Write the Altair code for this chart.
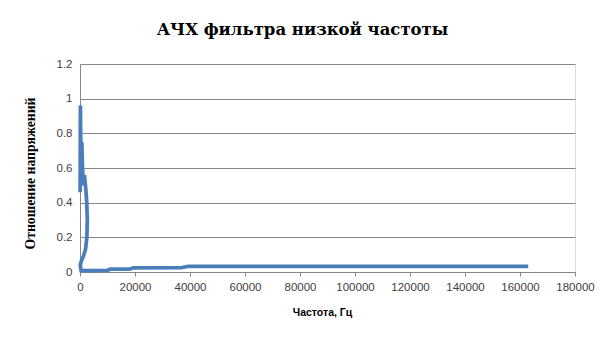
import altair as alt
import pandas as pd

# Measured points of the low-pass filter response, in recording order
freq_hz = [163000, 39400, 37000, 19400, 18000, 10900, 10000, 400, 100, 400,
           1200, 2000, 2500, 2650, 2450, 2100, 1600, 1200, 900, 650, 350, 150, 50]
voltage_ratio = [0.033, 0.033, 0.025, 0.024, 0.016, 0.016, 0.009, 0.008, 0.04, 0.06,
                 0.09, 0.13, 0.20, 0.30, 0.40, 0.48, 0.56, 0.50, 0.60, 0.75, 0.62, 0.96, 0.46]

x_ticks = list(range(0, 180001, 20000))
y_ticks = [0, 0.2, 0.4, 0.6, 0.8, 1, 1.2]

df = pd.DataFrame({
    "f": freq_hz,
    "k": voltage_ratio,
    "idx": list(range(len(freq_hz))),
})

sans = "Liberation Sans"
serif = "Liberation Serif"

chart = (
    alt.Chart(df)
    .mark_line(color="#4A7EBB", strokeWidth=3.75, strokeJoin="miter", strokeCap="butt")
    .encode(
        x=alt.X(
            "f:Q",
            scale=alt.Scale(domain=[0, 180000], nice=False, zero=True),
            axis=alt.Axis(
                values=x_ticks,
                format="d",
                grid=False,
                labelOverlap=False,
                labelFlush=False,
                domainColor="#868686",
                tickColor="#868686",
                tickSize=4,
                labelFont=sans,
                labelFontSize=11.5,
                labelColor="#404040",
                labelPadding=5,
                title="Частота, Гц",
                titleFont=sans,
                titleFontSize=10.5,
                titleFontWeight="bold",
                titleColor="#000000",
                titleX=242,
                titleY=43,
                titleBaseline="alphabetic",
                titleAlign="center",
            ),
        ),
        y=alt.Y(
            "k:Q",
            scale=alt.Scale(domain=[0, 1.2], nice=False),
            axis=alt.Axis(
                values=y_ticks,
                format="~g",
                grid=True,
                labelFlush=False,
                gridColor="#868686",
                gridWidth=1,
                domainColor="#868686",
                ticks=False,
                labelFont=sans,
                labelFontSize=11.5,
                labelColor="#404040",
                labelPadding=8,
                title="Отношение напряжений",
                titleFont=serif,
                titleFontSize=13.7,
                titleFontWeight="bold",
                titleColor="#000000",
                titleAngle=270,
                titleX=-50,
                titleY=109,
                titleBaseline="middle",
                titleAlign="center",
            ),
        ),
        order="idx:Q",
    )
    .properties(
        width=495,
        height=208,
        title=alt.TitleParams(
            "АЧХ фильтра низкой частоты",
            font="DejaVu Serif",
            fontSize=16.5,
            fontWeight="bold",
            color="#000000",
            anchor="middle",
            baseline="alphabetic",
            offset=7,
            dx=-25,
        ),
        autosize=alt.AutoSizeParams(type="none"),
        padding={"left": 80, "top": 64, "right": 30, "bottom": 68},
    )
    .configure_view(stroke=None)
    .configure(background="#ffffff")
)

chart.save("out.html", embed_options={"renderer": "svg", "actions": False})
